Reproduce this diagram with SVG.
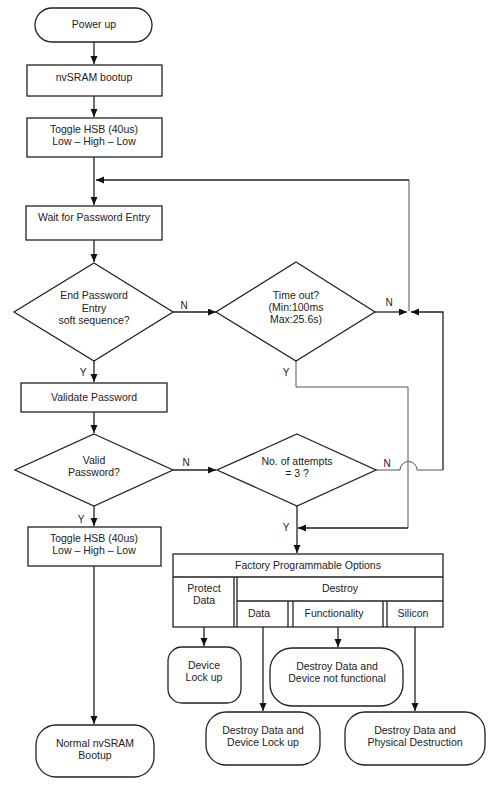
<svg xmlns="http://www.w3.org/2000/svg" width="500" height="786" viewBox="0 0 500 786">
<style>
.n{fill:#fff;stroke:#222;stroke-width:1.3}
.t{font-family:"Liberation Sans",Arial,sans-serif;font-size:10.5px;fill:#222;text-anchor:middle}
.l{font-family:"Liberation Sans",Arial,sans-serif;font-size:10px;fill:#222;text-anchor:middle}
.c{fill:none;stroke:#222;stroke-width:1.3}
.g{fill:none;stroke:#555;stroke-width:1}
</style>
<defs>
<marker id="a" markerUnits="userSpaceOnUse" markerWidth="9" markerHeight="8" refX="8" refY="3.5" orient="auto">
<path d="M0,0 L8,3.5 L0,7 z" fill="#111"/>
</marker>
</defs>
<rect width="500" height="786" fill="#fff"/>
<g id="connectors">
<path class="c" d="M94,42 V64" marker-end="url(#a)"/>
<path class="c" d="M94,96 V117" marker-end="url(#a)"/>
<path class="c" d="M94,157 V205" marker-end="url(#a)"/>
<path class="g" d="M409,311 V180"/>
<path class="c" d="M409,180 H96" marker-end="url(#a)"/>
<path class="c" d="M94,240 V262" marker-end="url(#a)"/>
<path class="c" d="M173,312 H216" marker-end="url(#a)"/>
<path class="c" d="M375,312 H407" marker-end="url(#a)"/>
<path class="g" d="M376,470 H400 A8.5,8.5 0 0 1 417,470 H443"/>
<path class="c" d="M443,470 V312 H411" marker-end="url(#a)"/>
<path class="g" d="M296,361 V387 H408 V528"/>
<path class="c" d="M408,528 H298" marker-end="url(#a)"/>
<path class="c" d="M94,361 V382" marker-end="url(#a)"/>
<path class="c" d="M94,412 V433" marker-end="url(#a)"/>
<path class="c" d="M173,470 H216" marker-end="url(#a)"/>
<path class="c" d="M94,506 V526" marker-end="url(#a)"/>
<path class="c" d="M94,566 V724" marker-end="url(#a)"/>
<path class="c" d="M297,506 V553" marker-end="url(#a)"/>
<path class="c" d="M204,627 V646" marker-end="url(#a)"/>
<path class="c" d="M263,627 V711" marker-end="url(#a)"/>
<path class="c" d="M338,627 V647" marker-end="url(#a)"/>
<path class="c" d="M415,627 V711" marker-end="url(#a)"/>
<text class="l" x="184" y="309">N</text>
<text class="l" x="389" y="306">N</text>
<text class="l" x="83" y="376">Y</text>
<text class="l" x="286" y="376">Y</text>
<text class="l" x="186" y="466">N</text>
<text class="l" x="387" y="467">N</text>
<text class="l" x="81" y="523">Y</text>
<text class="l" x="286" y="531">Y</text>
</g>
<g id="power-up">
<rect class="n" x="35" y="8" width="117" height="34" rx="17"/>
<text class="t" x="94" y="28">Power up</text>
</g>
<g id="nvsram-bootup">
<rect class="n" x="27" y="65" width="135" height="31"/>
<text class="t" x="94" y="81">nvSRAM bootup</text>
</g>
<g id="toggle-hsb-1">
<rect class="n" x="27" y="118" width="135" height="39"/>
<text class="t" x="94" y="133">Toggle HSB (40us)</text>
<text class="t" x="94" y="145">Low – High – Low</text>
</g>
<g id="wait-password">
<rect class="n" x="26" y="206" width="136" height="34"/>
<text class="t" x="94" y="221">Wait for Password Entry</text>
</g>
<g id="end-password">
<path class="n" d="M94,263 L173,312 L94,361 L14,312 Z"/>
<text class="t" x="94" y="299">End Password</text>
<text class="t" x="94" y="312">Entry</text>
<text class="t" x="94" y="324">soft sequence?</text>
</g>
<g id="time-out">
<path class="n" d="M296,262 L375,312 L296,361 L216,312 Z"/>
<text class="t" x="296" y="299">Time out?</text>
<text class="t" x="296" y="311">(Min:100ms</text>
<text class="t" x="296" y="323">Max:25.6s)</text>
</g>
<g id="validate-password">
<rect class="n" x="21" y="383" width="146" height="29"/>
<text class="t" x="94" y="401">Validate Password</text>
</g>
<g id="valid-password">
<path class="n" d="M94,434 L173,470 L94,506 L15,470 Z"/>
<text class="t" x="94" y="464">Valid</text>
<text class="t" x="94" y="476">Password?</text>
</g>
<g id="attempts">
<path class="n" d="M297,434 L376,470 L297,506 L217,470 Z"/>
<text class="t" x="297" y="465">No. of attempts</text>
<text class="t" x="297" y="477">= 3 ?</text>
</g>
<g id="toggle-hsb-2">
<rect class="n" x="28" y="527" width="133" height="39"/>
<text class="t" x="94" y="542">Toggle HSB (40us)</text>
<text class="t" x="94" y="554">Low – High – Low</text>
</g>
<g id="normal-bootup">
<rect class="n" x="36" y="725" width="118" height="52" rx="20"/>
<text class="t" x="95" y="747">Normal nvSRAM</text>
<text class="t" x="95" y="759">Bootup</text>
</g>
<g id="factory-options">
<rect class="n" x="173" y="554" width="270" height="73"/>
<line class="c" x1="173" y1="577" x2="443" y2="577"/>
<line class="c" x1="234" y1="577" x2="234" y2="627"/>
<line class="c" x1="237" y1="577" x2="237" y2="627"/>
<line class="c" x1="237" y1="601" x2="443" y2="601"/>
<line class="c" x1="288" y1="601" x2="288" y2="627"/>
<line class="c" x1="293" y1="601" x2="293" y2="627"/>
<line class="c" x1="383" y1="601" x2="383" y2="627"/>
<line class="c" x1="387" y1="601" x2="387" y2="627"/>
<text class="t" x="308" y="569">Factory Programmable Options</text>
<text class="t" x="204" y="592">Protect</text>
<text class="t" x="204" y="604">Data</text>
<text class="t" x="340" y="592">Destroy</text>
<text class="t" x="259" y="617">Data</text>
<text class="t" x="334" y="617">Functionality</text>
<text class="t" x="413" y="617">Silicon</text>
</g>
<g id="device-lockup">
<rect class="n" x="168" y="647" width="73" height="56" rx="14"/>
<text class="t" x="204" y="669">Device</text>
<text class="t" x="204" y="681">Lock up</text>
</g>
<g id="destroy-not-functional">
<rect class="n" x="270" y="648" width="133" height="58" rx="22"/>
<text class="t" x="337" y="670">Destroy Data and</text>
<text class="t" x="337" y="682">Device not functional</text>
</g>
<g id="destroy-lockup">
<rect class="n" x="206" y="712" width="114" height="53" rx="20"/>
<text class="t" x="263" y="734">Destroy Data and</text>
<text class="t" x="263" y="746">Device Lock up</text>
</g>
<g id="destroy-physical">
<rect class="n" x="345" y="712" width="140" height="53" rx="20"/>
<text class="t" x="415" y="734">Destroy Data and</text>
<text class="t" x="415" y="746">Physical Destruction</text>
</g>
</svg>
